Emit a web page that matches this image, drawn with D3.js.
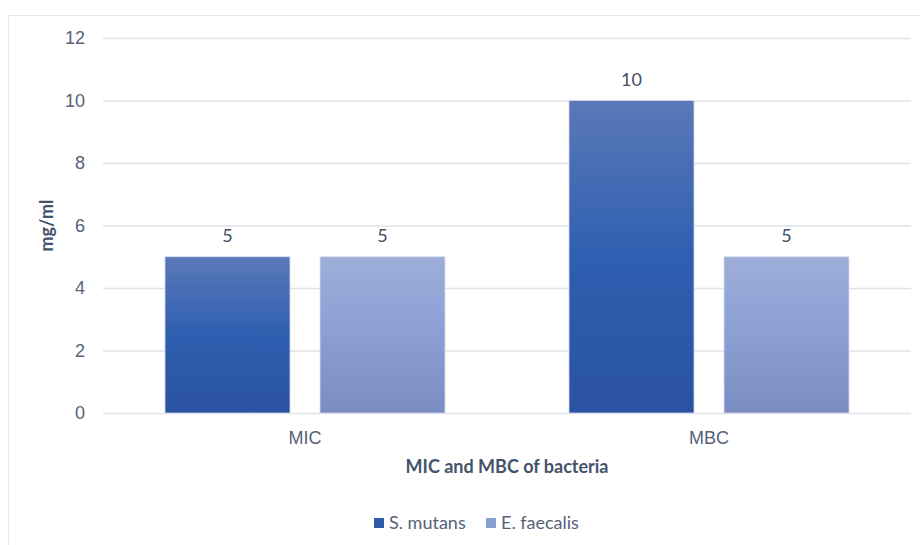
<!DOCTYPE html>
<html><head><meta charset="utf-8">
<script src="https://cdn.jsdelivr.net/npm/d3@7"></script>
<style>
html,body{margin:0;padding:0;background:#fff;}
svg{display:block;font-family:Lato,"Open Sans",sans-serif;}
</style></head>
<body>
<svg id="chart" width="920" height="545"></svg>
<script>
const categories = ["MIC", "MBC"];
const seriesNames = ["S. mutans", "E. faecalis"];
const sMutans = [5, 10];
const eFaecalis = [5, 5];
const yTicks = [0, 2, 4, 6, 8, 10, 12];
const xTitle = "MIC and MBC of bacteria";
const yTitle = "mg/ml";

const svg = d3.select("#chart");
const W = 920, H = 545;
const m = {left: 103, right: 9, top: 38, bottom: 132};
const plotW = W - m.left - m.right, plotH = H - m.top - m.bottom;
const FS = 18;

// outer border
svg.append("rect").attr("x", 8.5).attr("y", 15.5).attr("width", 930).attr("height", 560)
  .attr("fill", "none").attr("stroke", "#e3e6ea").attr("stroke-width", 1);

const defs = svg.append("defs");
const g1 = defs.append("linearGradient").attr("id", "gA").attr("x1", 0).attr("x2", 0).attr("y1", 0).attr("y2", 1);
g1.append("stop").attr("offset", "0%").attr("stop-color", "#5b78b8");
g1.append("stop").attr("offset", "50%").attr("stop-color", "#2f5fb1");
g1.append("stop").attr("offset", "100%").attr("stop-color", "#2a52a1");
const g2 = defs.append("linearGradient").attr("id", "gB").attr("x1", 0).attr("x2", 0).attr("y1", 0).attr("y2", 1);
g2.append("stop").attr("offset", "0%").attr("stop-color", "#9eaed9");
g2.append("stop").attr("offset", "50%").attr("stop-color", "#8b9fd5");
g2.append("stop").attr("offset", "100%").attr("stop-color", "#7a8dc3");
const fills = ["url(#gA)", "url(#gB)"];
const legendFills = ["#2f5aa8", "#8a9fd4"];

const x0 = d3.scaleBand().domain(categories).range([m.left, m.left + plotW]).paddingInner(0).paddingOuter(0);
const x1 = d3.scaleBand().domain(seriesNames).range([0, x0.bandwidth()]).paddingInner(0.1935).paddingOuter(0.4);
const y = d3.scaleLinear().domain([0, 12]).range([m.top + plotH, m.top]);

// gridlines
const yAxis = d3.axisLeft(y).tickValues(yTicks).tickSize(-plotW).tickFormat(d3.format("d"));
const ga = svg.append("g").attr("transform", `translate(${m.left},0)`).call(yAxis);
ga.select(".domain").remove();
ga.selectAll(".tick line").attr("stroke", "#dfe2e6").attr("stroke-width", 1.3);
ga.selectAll(".tick text").attr("x", -18).attr("fill", "#56627a").attr("font-size", FS);

const data = categories.map((c, i) => ({cat: c, vals: [sMutans[i], eFaecalis[i]]}));
const grp = svg.append("g").selectAll("g").data(data).join("g")
  .attr("transform", d => `translate(${x0(d.cat)},0)`);
grp.selectAll("rect").data(d => d.vals.map((v, j) => ({v, j, s: seriesNames[j]}))).join("rect")
  .attr("x", d => x1(d.s)).attr("width", x1.bandwidth())
  .attr("y", d => y(d.v)).attr("height", d => y(0) - y(d.v))
  .attr("fill", d => fills[d.j]).attr("stroke", "#d7ddf0").attr("stroke-width", 0.8);
grp.selectAll("text.lbl").data(d => d.vals.map((v, j) => ({v, j, s: seriesNames[j]}))).join("text")
  .attr("class", "lbl")
  .attr("x", d => x1(d.s) + x1.bandwidth() / 2).attr("y", d => y(d.v) - 15)
  .attr("text-anchor", "middle").attr("fill", "#434f63").attr("font-size", FS).text(d => d.v);

// x axis labels
const xAxis = d3.axisBottom(x0).tickSize(0);
const gx = svg.append("g").attr("transform", `translate(0,${y(0)})`).call(xAxis);
gx.select(".domain").remove();
gx.selectAll(".tick text").attr("dy", 0).attr("y", 31).attr("fill", "#56627a").attr("font-size", FS);

// axis titles
svg.append("text").attr("x", (m.left + W - m.right) / 2).attr("y", 473).attr("text-anchor", "middle")
  .attr("font-weight", "bold").attr("font-size", FS).attr("fill", "#44536b").text(xTitle);
svg.append("text").attr("transform", `translate(53,${(y(0) + y(12)) / 2}) rotate(-90)`)
  .attr("text-anchor", "middle").attr("font-weight", "bold").attr("font-size", FS).attr("fill", "#44536b").text(yTitle);

// legend
const leg = svg.append("g");
const legX = [374, 486];
seriesNames.forEach((s, i) => {
  leg.append("rect").attr("x", legX[i]).attr("y", 518).attr("width", 10).attr("height", 10).attr("fill", legendFills[i]);
  leg.append("text").attr("x", legX[i] + 15).attr("y", 529).attr("font-size", FS).attr("fill", "#56627a").text(s);
});
</script>
</body></html>
